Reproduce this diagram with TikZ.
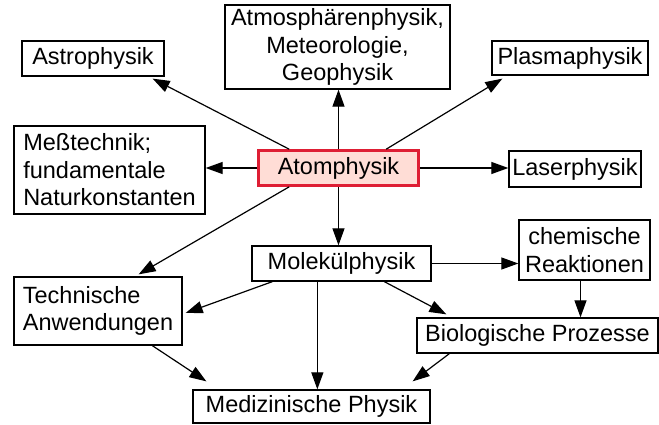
\documentclass[tikz,border=0pt]{standalone}
\usepackage{fontspec}
\setmainfont{Liberation Sans}
\usepackage{xcolor}
\usetikzlibrary{arrows.meta, positioning, calc}
\definecolor{AtomRed}{RGB}{222, 30, 52}
\definecolor{AtomFill}{RGB}{255, 221, 214}

\begin{document}
\begin{tikzpicture}[x=1pt, y=-1pt,
    box/.style={draw, line width=1.3pt, inner sep=2pt, align=center,
                font=\fontsize{23.5}{27.5}\selectfont},
    arr/.style={-{Triangle[length=17pt, width=12pt]}, line width=1.2pt}]
  \useasboundingbox (0,0) rectangle (659,425);

  % centre
  \node[box, draw=AtomRed, fill=AtomFill, line width=2.6pt,
        minimum width=160pt, minimum height=35pt] (atom) at (338.5,168) {Atomphysik};

  % outer ring
  \node[box, minimum width=142pt, minimum height=35pt] (astro) at (93,58.5) {Astrophysik};
  \node[box, minimum width=225pt, minimum height=84pt] (atmos) at (337.5,47)
        {Atmosphärenphysik,\\Meteorologie,\\Geophysik};
  \node[box, minimum width=156pt, minimum height=34pt] (plasma) at (570,58) {Plasmaphysik};
  \node[box, align=left, minimum width=191pt, minimum height=88pt] (mess) at (109.5,170)
        {Meßtechnik;\\fundamentale\\Naturkonstanten};
  \node[box, minimum width=132pt, minimum height=36pt] (laser) at (575,169) {Laserphysik};
  \node[box, minimum width=179pt, minimum height=35pt] (molek) at (341.5,263.5) {Molekülphysik};
  \node[box, minimum width=131pt, minimum height=60pt] (chem) at (584.5,250)
        {chemische\\Reaktionen};
  \node[box, align=left, minimum width=168pt, minimum height=68pt] (techn) at (98,311)
        {Technische\\Anwendungen};
  \node[box, minimum width=241pt, minimum height=35pt] (bio) at (537.5,335.5) {Biologische Prozesse};
  \node[box, minimum width=237pt, minimum height=33pt] (medi) at (311.5,406.5) {Medizinische Physik};

  % from Atomphysik
  \draw[arr] ($(atom.north west)+(32,0)$) -- ($(astro.south east)+(-12,2)$);
  \draw[arr] (atom.north) -- (atom.north |- atmos.south);
  \draw[arr] ($(atom.north west)+(129,0)$) -- ($(plasma.south west)+(11,3)$);
  \draw[arr] (atom.east) -- (atom.east -| laser.west);
  \draw[arr] (atom.west) -- (atom.west -| mess.east);
  \draw[arr] ($(atom.south west)+(32,0)$) -- ($(techn.north east)+(-44,-2)$);
  \draw[arr] (atom.south) -- (atom.south |- molek.north);

  % from Molekuelphysik
  \draw[arr] ($(molek.south west)+(21,0)$) -- ($(techn.east)+(3,2)$);
  \coordinate (mdown) at ($(molek.south west)+(66,0)$);
  \draw[arr] (mdown) -- (mdown |- medi.north);
  \draw[arr] ($(molek.south west)+(133,0)$) -- ($(bio.north west)+(30,-3)$);
  \draw[arr] (molek.east) -- (molek.east -| chem.west);
  \coordinate (cdown) at ($(chem.south)+(-4,0)$);
  \draw[arr] (cdown) -- (cdown |- bio.north);

  % into Medizinische Physik
  \draw[arr] ($(techn.south west)+(139,0)$) -- ($(medi.north west)+(14,-8)$);
  \draw[arr] ($(bio.south west)+(33,0)$) -- ($(medi.north east)+(-18,-8)$);
\end{tikzpicture}
\end{document}
